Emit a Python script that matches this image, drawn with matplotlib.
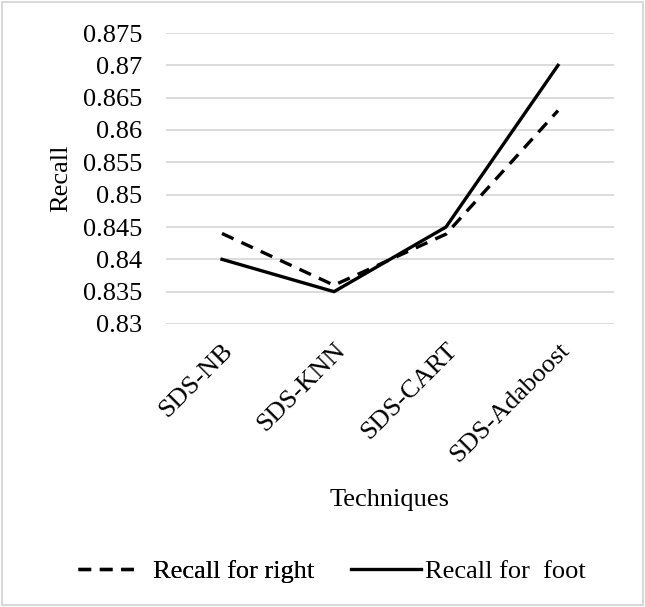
import matplotlib
matplotlib.use("Agg")
import matplotlib.pyplot as plt
from matplotlib.patches import Rectangle

categories = ["SDS-NB", "SDS-KNN", "SDS-CART", "SDS-Adaboost"]
recall_right = [0.844, 0.836, 0.8439, 0.863]
recall_foot = [0.840, 0.835, 0.845, 0.870]
yticks = [0.83, 0.835, 0.84, 0.845, 0.85, 0.855, 0.86, 0.865, 0.87, 0.875]
ytick_labels = ["0.83", "0.835", "0.84", "0.845", "0.85", "0.855", "0.86", "0.865", "0.87", "0.875"]

plt.rcParams['font.family'] = ['Liberation Serif', 'DejaVu Serif']
FS = 19
W, H = 645, 607

fig = plt.figure(figsize=(6.45, 6.07), dpi=100)
ax = fig.add_axes([166 / W, 1 - 324 / H, (614 - 166) / W, (324 - 33) / H])

x = list(range(len(categories)))
dash = (0, (3.8, 2.6))
l1, = ax.plot(x, recall_right, color='black', linewidth=2.4, linestyle=dash, label='Recall for right')
l2, = ax.plot(x, recall_foot, color='black', linewidth=2.4, linestyle='-', label='Recall for  foot')

ax.set_xlim(-0.5, 3.5)
ax.set_ylim(0.83, 0.875)
ax.set_yticks(yticks)
ax.set_yticklabels(ytick_labels, fontsize=FS)
ax.set_xticks(x)
ax.set_xticklabels(categories, fontsize=FS, rotation=45, ha='right', va='top', rotation_mode='anchor')
ax.tick_params(axis='y', length=0, pad=17)
ax.tick_params(axis='x', length=0, pad=11)
ax.grid(axis='y', color='#d9d9d9', linewidth=1.3)
ax.set_axisbelow(True)
for s in ax.spines.values():
    s.set_visible(False)

ax.set_ylabel('Recall', fontsize=FS, labelpad=8)
fig.text((166 + 614) / 2 / W, 1 - 500 / H, 'Techniques', ha='center', va='center', fontsize=FS)

leg1 = fig.legend(handles=[l1], loc='center', bbox_to_anchor=(196 / W, 1 - 571 / H), frameon=False,
                  fontsize=FS, handlelength=2.27, handletextpad=0.6, borderpad=0, borderaxespad=0)
leg2 = fig.legend(handles=[l2], loc='center', bbox_to_anchor=(468 / W, 1 - 571 / H), frameon=False,
                  fontsize=FS, handlelength=2.65, handletextpad=0.15, borderpad=0, borderaxespad=0)
fig.add_artist(leg1)

fig.patches.append(Rectangle((0.003, 0.003), 0.994, 0.994, transform=fig.transFigure,
                             fill=False, edgecolor='#d9d9d9', linewidth=1.5))

fig.savefig('out.png', dpi=100)
